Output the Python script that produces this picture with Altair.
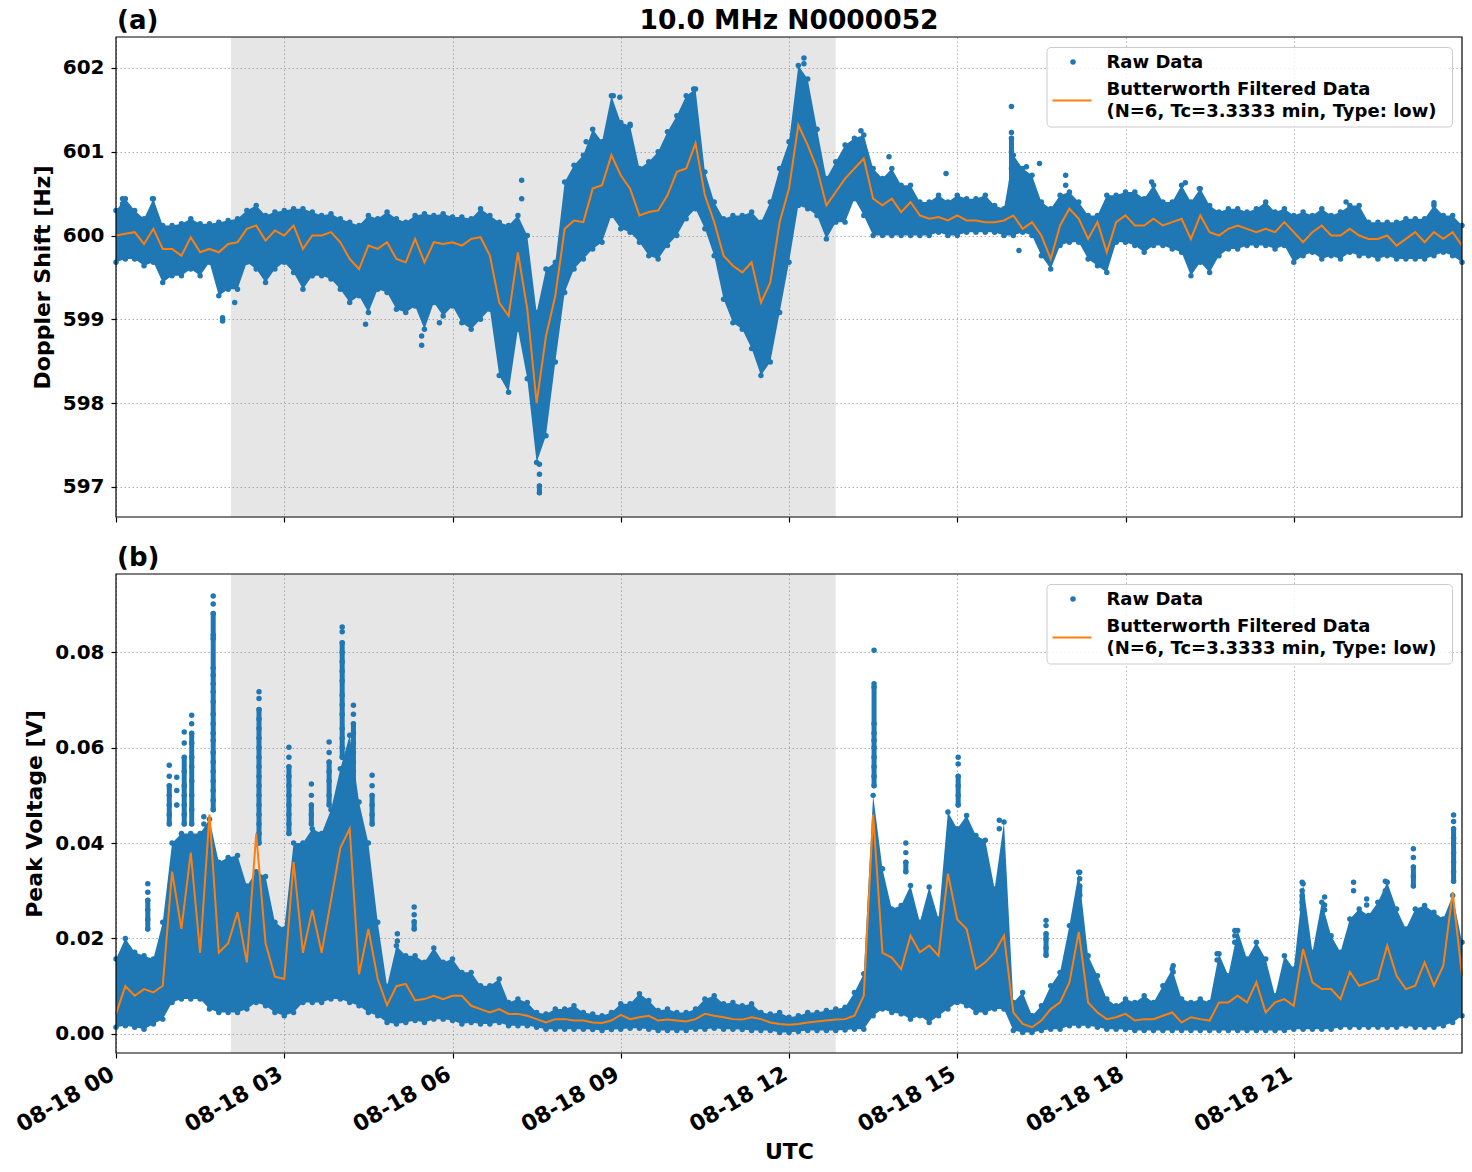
import altair as alt
import pandas as pd

BLUE = "#1f77b4"
ORANGE = "#ff7f0e"
FONT = "DejaVu Sans"

# time axis: minutes after 08-18 00:00 UTC, one sample every 10 minutes
minutes = list(range(0, 1441, 10))

# ---- (a) Doppler shift [Hz]: envelope of raw samples and filtered trace ----
doppler_upper = [
    600.30, 600.44, 600.30, 600.20, 600.44, 600.12,
    600.12, 600.14, 600.20, 600.14, 600.14, 600.16,
    600.18, 600.20, 600.30, 600.36, 600.24, 600.28,
    600.30, 600.32, 600.32, 600.28, 600.24, 600.26,
    600.20, 600.16, 600.12, 600.24, 600.20, 600.28,
    600.20, 600.16, 600.24, 600.26, 600.24, 600.26,
    600.22, 600.22, 600.20, 600.32, 600.24, 600.16,
    600.12, 600.24, 600.00, 599.08, 599.60, 599.68,
    600.64, 600.84, 600.96, 601.27, 601.12, 601.67,
    601.35, 601.31, 600.80, 600.88, 601.00, 601.24,
    601.43, 601.67, 601.75, 600.76, 600.40, 600.20,
    600.24, 600.24, 600.28, 600.16, 600.40, 600.80,
    601.12, 602.03, 601.87, 601.27, 600.68, 600.88,
    601.08, 601.16, 601.20, 600.80, 600.68, 600.80,
    600.60, 600.60, 600.40, 600.40, 600.48, 600.40,
    600.48, 600.44, 600.44, 600.48, 600.36, 600.32,
    600.96, 600.80, 600.72, 600.40, 600.32, 600.48,
    600.52, 600.40, 600.24, 600.24, 600.48, 600.48,
    600.52, 600.52, 600.44, 600.60, 600.40, 600.40,
    600.60, 600.40, 600.56, 600.36, 600.28, 600.32,
    600.32, 600.28, 600.32, 600.40, 600.28, 600.32,
    600.24, 600.28, 600.24, 600.32, 600.24, 600.28,
    600.36, 600.36, 600.16, 600.16, 600.16, 600.16,
    600.20, 600.20, 600.20, 600.36, 600.24, 600.24,
    600.12,
]
doppler_lower = [
    599.68, 599.72, 599.72, 599.64, 599.68, 599.44,
    599.52, 599.52, 599.60, 599.52, 599.68, 599.28,
    599.36, 599.36, 599.68, 599.60, 599.44, 599.60,
    599.68, 599.56, 599.36, 599.52, 599.52, 599.48,
    599.36, 599.20, 599.28, 599.08, 599.36, 599.32,
    599.12, 599.08, 599.16, 598.88, 599.20, 599.04,
    599.16, 598.96, 598.88, 599.00, 599.12, 598.33,
    598.13, 598.88, 598.29, 597.29, 597.61, 598.49,
    599.32, 599.60, 599.72, 599.84, 599.92, 600.24,
    600.08, 600.04, 599.92, 599.76, 599.72, 599.88,
    600.00, 600.20, 600.32, 600.08, 599.76, 599.24,
    598.96, 598.88, 598.65, 598.33, 598.49, 599.08,
    599.68, 600.36, 600.32, 600.24, 599.96, 600.16,
    600.16, 600.44, 600.24, 600.00, 600.00, 600.00,
    600.00, 600.00, 600.00, 600.00, 600.04, 600.00,
    600.00, 600.04, 600.04, 600.04, 600.04, 600.00,
    600.00, 600.04, 600.00, 599.76, 599.60, 599.88,
    599.92, 599.92, 599.72, 599.64, 599.56, 599.92,
    599.92, 599.88, 599.80, 599.88, 599.88, 599.84,
    599.80, 599.52, 599.68, 599.56, 599.76, 599.84,
    599.84, 599.88, 599.88, 599.88, 599.84, 599.88,
    599.68, 599.76, 599.80, 599.72, 599.76, 599.72,
    599.80, 599.76, 599.76, 599.72, 599.76, 599.72,
    599.72, 599.72, 599.72, 599.76, 599.80, 599.76,
    599.68,
]
doppler_filtered = [
    600.00, 600.02, 600.04, 599.90, 600.08, 599.84,
    599.84, 599.76, 599.98, 599.80, 599.84, 599.80,
    599.90, 599.92, 600.08, 600.12, 599.94, 600.06,
    600.00, 600.12, 599.84, 600.00, 600.00, 600.04,
    599.92, 599.72, 599.60, 599.88, 599.84, 599.92,
    599.72, 599.68, 599.96, 599.68, 599.92, 599.90,
    599.92, 599.88, 599.96, 599.98, 599.76, 599.20,
    599.04, 599.80, 599.12, 598.00, 598.80, 599.28,
    600.08, 600.18, 600.16, 600.56, 600.60, 600.96,
    600.72, 600.56, 600.24, 600.28, 600.30, 600.48,
    600.76, 600.80, 601.10, 600.48, 600.16, 599.76,
    599.64, 599.56, 599.68, 599.20, 599.44, 600.16,
    600.56, 601.32, 601.08, 600.80, 600.36, 600.52,
    600.68, 600.80, 600.92, 600.44, 600.36, 600.44,
    600.28, 600.40, 600.24, 600.20, 600.22, 600.18,
    600.24, 600.18, 600.18, 600.16, 600.16, 600.18,
    600.24, 600.08, 600.16, 600.00, 599.72, 600.12,
    600.32, 600.20, 599.96, 600.16, 599.80, 600.16,
    600.24, 600.12, 600.12, 600.20, 600.12, 600.16,
    600.20, 599.96, 600.24, 600.04, 600.00, 600.08,
    600.12, 600.08, 600.04, 600.08, 600.04, 600.16,
    600.04, 599.92, 600.04, 600.12, 600.00, 600.00,
    600.08, 600.00, 599.96, 599.96, 600.00, 599.88,
    599.96, 600.04, 599.92, 600.04, 599.96, 600.04,
    599.88,
]
# isolated raw samples outside the envelope: (minute, values)
doppler_outliers = [
    (7, [600.44, 600.38]), (39, [600.44]), (114, [599.02, 598.98]),
    (127, [599.20]), (267, [598.94]), (327, [598.69, 598.80]),
    (346, [598.96]), (434, [600.66, 600.44]),
    (453, [596.93, 597.01, 597.15, 597.27]), (503, [601.12]),
    (532, [601.67]), (539, [601.65]), (550, [601.33]), (618, [601.75]),
    (736, [602.12, 602.05]), (797, [601.25]), (827, [600.94]),
    (888, [600.74]), (958, [601.54, 601.23, 601.16, 601.00, 600.80, 600.64]),
    (966, [599.82]), (974, [600.82, 600.72]), (988, [600.86]),
    (1016, [600.72, 600.60]), (1108, [600.64]), (1144, [600.63]),
    (1159, [600.56]), (1316, [600.40]), (1410, [600.39]),
]

# ---- (b) Peak voltage [V] ----
voltage_upper = [
    0.0157, 0.0200, 0.0171, 0.0164, 0.0157, 0.0234,
    0.0400, 0.0420, 0.0420, 0.0420, 0.0450, 0.0360,
    0.0370, 0.0374, 0.0310, 0.0340, 0.0330, 0.0234,
    0.0220, 0.0400, 0.0400, 0.0430, 0.0420, 0.0470,
    0.0556, 0.0626, 0.0486, 0.0400, 0.0234, 0.0100,
    0.0185, 0.0164, 0.0164, 0.0150, 0.0180, 0.0150,
    0.0157, 0.0129, 0.0129, 0.0101, 0.0101, 0.0115,
    0.0066, 0.0073, 0.0066, 0.0045, 0.0042, 0.0052,
    0.0052, 0.0059, 0.0045, 0.0042, 0.0038, 0.0045,
    0.0063, 0.0063, 0.0084, 0.0070, 0.0049, 0.0052,
    0.0045, 0.0045, 0.0052, 0.0073, 0.0080, 0.0063,
    0.0066, 0.0059, 0.0063, 0.0045, 0.0042, 0.0045,
    0.0035, 0.0038, 0.0045, 0.0045, 0.0049, 0.0052,
    0.0056, 0.0087, 0.0126, 0.0500, 0.0346, 0.0262,
    0.0269, 0.0311, 0.0234, 0.0308, 0.0241, 0.0465,
    0.0430, 0.0458, 0.0416, 0.0406, 0.0304, 0.0444,
    0.0066, 0.0087, 0.0038, 0.0059, 0.0101, 0.0129,
    0.0227, 0.0339, 0.0164, 0.0122, 0.0073, 0.0059,
    0.0073, 0.0066, 0.0080, 0.0066, 0.0101, 0.0136,
    0.0073, 0.0066, 0.0073, 0.0066, 0.0168, 0.0122,
    0.0217, 0.0157, 0.0192, 0.0157, 0.0080, 0.0164,
    0.0136, 0.0315, 0.0171, 0.0276, 0.0206, 0.0171,
    0.0241, 0.0262, 0.0248, 0.0276, 0.0318, 0.0262,
    0.0220, 0.0262, 0.0269, 0.0255, 0.0241, 0.0290,
    0.0192,
]
voltage_lower = [
    0.0014, 0.0017, 0.0014, 0.0010, 0.0021, 0.0031,
    0.0066, 0.0073, 0.0073, 0.0073, 0.0052, 0.0045,
    0.0045, 0.0045, 0.0052, 0.0066, 0.0059, 0.0045,
    0.0038, 0.0045, 0.0066, 0.0066, 0.0066, 0.0073,
    0.0073, 0.0066, 0.0059, 0.0045, 0.0038, 0.0024,
    0.0021, 0.0024, 0.0028, 0.0024, 0.0031, 0.0031,
    0.0028, 0.0021, 0.0024, 0.0021, 0.0021, 0.0024,
    0.0017, 0.0017, 0.0017, 0.0014, 0.0010, 0.0010,
    0.0010, 0.0010, 0.0010, 0.0009, 0.0007, 0.0009,
    0.0010, 0.0012, 0.0012, 0.0010, 0.0007, 0.0007,
    0.0007, 0.0007, 0.0010, 0.0010, 0.0012, 0.0010,
    0.0010, 0.0009, 0.0007, 0.0007, 0.0007, 0.0003,
    0.0003, 0.0005, 0.0007, 0.0007, 0.0007, 0.0007,
    0.0008, 0.0010, 0.0010, 0.0038, 0.0052, 0.0045,
    0.0042, 0.0031, 0.0038, 0.0024, 0.0038, 0.0052,
    0.0066, 0.0059, 0.0045, 0.0045, 0.0052, 0.0052,
    0.0007, 0.0003, 0.0003, 0.0007, 0.0010, 0.0010,
    0.0017, 0.0017, 0.0017, 0.0014, 0.0010, 0.0010,
    0.0009, 0.0007, 0.0007, 0.0007, 0.0007, 0.0007,
    0.0007, 0.0007, 0.0007, 0.0007, 0.0007, 0.0007,
    0.0007, 0.0007, 0.0007, 0.0007, 0.0007, 0.0007,
    0.0010, 0.0010, 0.0010, 0.0010, 0.0010, 0.0014,
    0.0014, 0.0014, 0.0014, 0.0014, 0.0014, 0.0014,
    0.0017, 0.0014, 0.0014, 0.0014, 0.0017, 0.0024,
    0.0038,
]
voltage_filtered = [
    0.0042, 0.0100, 0.0080, 0.0094, 0.0087, 0.0101,
    0.0340, 0.0220, 0.0380, 0.0170, 0.0460, 0.0170,
    0.0190, 0.0255, 0.0150, 0.0420, 0.0190, 0.0120,
    0.0115, 0.0360, 0.0170, 0.0260, 0.0170, 0.0280,
    0.0390, 0.0430, 0.0125, 0.0220, 0.0115, 0.0060,
    0.0100, 0.0105, 0.0070, 0.0073, 0.0080, 0.0073,
    0.0080, 0.0080, 0.0059, 0.0052, 0.0045, 0.0052,
    0.0042, 0.0042, 0.0038, 0.0031, 0.0024, 0.0031,
    0.0031, 0.0028, 0.0028, 0.0024, 0.0023, 0.0028,
    0.0040, 0.0031, 0.0035, 0.0038, 0.0028, 0.0030,
    0.0028, 0.0026, 0.0031, 0.0042, 0.0038, 0.0035,
    0.0031, 0.0030, 0.0035, 0.0031, 0.0024, 0.0021,
    0.0019, 0.0021, 0.0024, 0.0026, 0.0028, 0.0030,
    0.0031, 0.0038, 0.0080, 0.0460, 0.0170, 0.0160,
    0.0136, 0.0206, 0.0171, 0.0185, 0.0164, 0.0336,
    0.0240, 0.0220, 0.0136, 0.0150, 0.0171, 0.0206,
    0.0045, 0.0021, 0.0014, 0.0028, 0.0052, 0.0066,
    0.0108, 0.0214, 0.0066, 0.0045, 0.0031, 0.0035,
    0.0042, 0.0028, 0.0031, 0.0031, 0.0038, 0.0045,
    0.0024, 0.0035, 0.0031, 0.0028, 0.0066, 0.0066,
    0.0080, 0.0066, 0.0108, 0.0045, 0.0066, 0.0073,
    0.0059, 0.0178, 0.0108, 0.0094, 0.0094, 0.0073,
    0.0130, 0.0101, 0.0108, 0.0115, 0.0185, 0.0122,
    0.0094, 0.0101, 0.0150, 0.0101, 0.0143, 0.0297,
    0.0122,
]
voltage_outliers = [
    (34, [0.0315, 0.0297, 0.0280, 0.0260, 0.0240, 0.0220]),
    (57, [0.0563, 0.0540, 0.0520, 0.0500, 0.0480, 0.0460, 0.0440]),
    (65, [0.0538, 0.0510, 0.0480]),
    (73, [0.0633, 0.0610, 0.0580, 0.0550, 0.0520, 0.0500, 0.0480, 0.0460, 0.0440]),
    (81, [0.0668, 0.0650, 0.0630, 0.0610, 0.0580, 0.0560, 0.0530, 0.0500, 0.0470, 0.0440]),
    (94, [0.0455, 0.0440]),
    (104, [0.0918, 0.0901, 0.0881, 0.0836, 0.0829, 0.0767, 0.0752, 0.0734, 0.0717,
           0.0696, 0.0670, 0.0650, 0.0630, 0.0615, 0.0590, 0.0570, 0.0550, 0.0530,
           0.0510, 0.0490, 0.0470]),
    (153, [0.0717, 0.0703, 0.0680, 0.0660, 0.0640, 0.0620, 0.0600, 0.0580, 0.0560,
           0.0540, 0.0520, 0.0500, 0.0480, 0.0460, 0.0440, 0.0420, 0.0400]),
    (185, [0.0601, 0.0580, 0.0560, 0.0540, 0.0520, 0.0500, 0.0480, 0.0460, 0.0440, 0.0420]),
    (209, [0.0524, 0.0500, 0.0480, 0.0460, 0.0440]),
    (228, [0.0612, 0.0590, 0.0570, 0.0550, 0.0530, 0.0500, 0.0480]),
    (242, [0.0853, 0.0843, 0.0820, 0.0800, 0.0780, 0.0760, 0.0740, 0.0710, 0.0690,
           0.0670, 0.0640, 0.0620, 0.0600, 0.0580]),
    (254, [0.0689, 0.0670, 0.0650, 0.0630, 0.0610, 0.0590, 0.0570, 0.0550, 0.0530, 0.0510]),
    (274, [0.0542, 0.0520, 0.0500, 0.0480, 0.0460, 0.0440]),
    (301, [0.0210, 0.0195]),
    (319, [0.0266, 0.0250, 0.0235, 0.0220]),
    (811, [0.0804, 0.0734, 0.0727, 0.0650, 0.0630, 0.0615, 0.0600, 0.0580, 0.0560,
           0.0540, 0.0520]),
    (845, [0.0400, 0.0380, 0.0360, 0.0340]),
    (901, [0.0580, 0.0566, 0.0540, 0.0520, 0.0500, 0.0480]),
    (945, [0.0448, 0.0430]),
    (995, [0.0238, 0.0227, 0.0210, 0.0199, 0.0180, 0.0165]),
    (1022, [0.0227, 0.0210]),
    (1031, [0.0339, 0.0325, 0.0310, 0.0290]),
    (1131, [0.0143, 0.0130]),
    (1178, [0.0168, 0.0155]),
    (1197, [0.0217, 0.0206, 0.0192]),
    (1269, [0.0318, 0.0300, 0.0290, 0.0276, 0.0260]),
    (1293, [0.0287, 0.0270, 0.0260]),
    (1324, [0.0318, 0.0300]),
    (1338, [0.0283, 0.0270]),
    (1358, [0.0320, 0.0300]),
    (1388, [0.0388, 0.0370, 0.0350, 0.0330, 0.0310]),
    (1431, [0.0459, 0.0445, 0.0430, 0.0410, 0.0400, 0.0380, 0.0360, 0.0340, 0.0320]),
]

# night-time interval (shaded) in minutes
night_start, night_end = 123, 770

x_ticks = [0, 180, 360, 540, 720, 900, 1080, 1260]
doppler_ticks = [597, 598, 599, 600, 601, 602]
voltage_ticks = [0.00, 0.02, 0.04, 0.06, 0.08]

legend_labels = ["Raw Data", "Butterworth Filtered Data",
                 "(N=6, Tc=3.3333 min, Type: low)"]

PLOT_W = 1346


def legend_layers():
    one = pd.DataFrame({"k": [0]})
    box = alt.Chart(one).mark_rect(
        fill="white", fillOpacity=0.8, stroke="#cccccc", strokeWidth=1, cornerRadius=4
    ).encode(x=alt.value(931), x2=alt.value(1336.5), y=alt.value(10.5), y2=alt.value(90))
    dot = alt.Chart(one).mark_circle(color=BLUE, size=30, opacity=1).encode(
        x=alt.value(957), y=alt.value(25))
    swatch = alt.Chart(one).mark_rule(color=ORANGE, strokeWidth=2).encode(
        x=alt.value(936.5), x2=alt.value(975.5), y=alt.value(63.4))
    texts = []
    for lbl, ypos in zip(legend_labels, [31, 57.7, 79.7]):
        texts.append(
            alt.Chart(pd.DataFrame({"txt": [lbl]})).mark_text(
                align="left", baseline="alphabetic", font=FONT, fontSize=18,
                fontWeight="bold", color="black"
            ).encode(x=alt.value(990.5), y=alt.value(ypos), text="txt:N")
        )
    return [box, dot, swatch] + texts


def panel(upper, lower, filt, outliers, y_domain, y_ticks, y_title, y_format,
          tag, height, bottom_axis, heading=None):
    band_df = pd.DataFrame({"t": minutes, "lo": lower, "hi": upper, "f": filt})
    edge_df = pd.DataFrame({"t": minutes + minutes, "v": lower + upper})
    out_t, out_v = [], []
    col_t, col_lo, col_hi = [], [], []
    for t, vals in outliers:
        out_t += [t] * len(vals)
        out_v += vals
        if len(vals) > 2:
            col_t.append(t)
            col_lo.append(min(vals))
            col_hi.append(sorted(vals)[-3])
    out_df = pd.DataFrame({"t": out_t, "v": out_v})
    col_df = pd.DataFrame({"t": col_t, "lo": col_lo, "hi": col_hi})

    xs = alt.Scale(domain=[0, 1440], nice=False, zero=False)
    ys = alt.Scale(domain=y_domain, nice=False, zero=False)
    if bottom_axis:
        xax = alt.Axis(
            values=x_ticks, grid=True, title="UTC", titlePadding=6,
            labelExpr="'08-18 ' + (datum.value < 600 ? '0' : '') + format(datum.value / 60, 'd')",
            labelAngle=330, labelAlign="right", labelBaseline="top",
            labelOffset=-9, labelPadding=5, labelFontSize=22,
        )
    else:
        xax = alt.Axis(values=x_ticks, grid=True, labels=False, title=None)
    yax = alt.Axis(values=y_ticks, format=y_format, grid=True, title=y_title,
                   titlePadding=8)

    X = alt.X("t:Q", scale=xs, axis=xax)

    shade = alt.Chart(pd.DataFrame({"s": [night_start], "e": [night_end]})).mark_rect(
        color="gray", opacity=0.2
    ).encode(x=alt.X("s:Q", scale=xs, axis=xax), x2="e:Q")

    band = alt.Chart(band_df).mark_area(color=BLUE, opacity=1).encode(
        x=X, y=alt.Y("lo:Q", scale=ys, axis=yax), y2="hi:Q")
    edges = alt.Chart(edge_df).mark_circle(color=BLUE, size=30, opacity=1).encode(
        x=X, y=alt.Y("v:Q", scale=ys, axis=yax))
    columns = alt.Chart(col_df).mark_rule(color=BLUE, strokeWidth=5, strokeCap="round").encode(
        x=X, y=alt.Y("lo:Q", scale=ys, axis=yax), y2="hi:Q")
    spikes = alt.Chart(out_df).mark_circle(color=BLUE, size=30, opacity=1).encode(
        x=X, y=alt.Y("v:Q", scale=ys, axis=yax))
    line = alt.Chart(band_df).mark_line(color=ORANGE, strokeWidth=2).encode(
        x=X, y=alt.Y("f:Q", scale=ys, axis=yax))

    one = pd.DataFrame({"k": [0]})
    frame = alt.Chart(one).mark_rect(filled=False, stroke="black", strokeWidth=1.2).encode(
        x=alt.value(0), x2=alt.value(PLOT_W), y=alt.value(0), y2=alt.value(height))
    tag_txt = alt.Chart(pd.DataFrame({"txt": [tag]})).mark_text(
        align="left", baseline="alphabetic", font=FONT, fontSize=26,
        fontWeight="bold", color="black"
    ).encode(x=alt.value(1), y=alt.value(-8), text="txt:N")

    layers = [shade, band, edges, columns, spikes, line] + legend_layers() + [frame, tag_txt]
    if heading:
        layers.append(
            alt.Chart(pd.DataFrame({"txt": [heading]})).mark_text(
                align="center", baseline="alphabetic", font=FONT, fontSize=26.5,
                fontWeight="bold", color="black"
            ).encode(x=alt.value(PLOT_W / 2), y=alt.value(-8), text="txt:N")
        )
    return alt.layer(*layers).properties(width=PLOT_W, height=height)


top = panel(doppler_upper, doppler_lower, doppler_filtered, doppler_outliers,
            [596.64, 602.37], doppler_ticks, "Doppler Shift [Hz]", ".0f",
            "(a)", 480, False, heading="10.0 MHz N0000052")
bottom = panel(voltage_upper, voltage_lower, voltage_filtered, voltage_outliers,
               [-0.0040, 0.0964], voltage_ticks, "Peak Voltage [V]", ".2f",
               "(b)", 479, True)

chart = alt.vconcat(top, bottom, spacing=57, bounds="flush").properties(
    padding={"left": 12, "top": 8, "right": 4, "bottom": 0}
).configure(font=FONT).configure_view(stroke=None).configure_axis(
    domain=False,
    labelFont=FONT, labelFontSize=20, labelFontWeight="bold", labelColor="black",
    labelPadding=7,
    tickColor="black", tickSize=5, tickWidth=1.2,
    titleFont=FONT, titleFontSize=22, titleFontWeight="bold", titleColor="black",
    gridColor="#b0b0b0", gridDash=[1.5, 2.5], gridWidth=1,
)

chart.save("out.html", embed_options={"renderer": "svg", "actions": False})
